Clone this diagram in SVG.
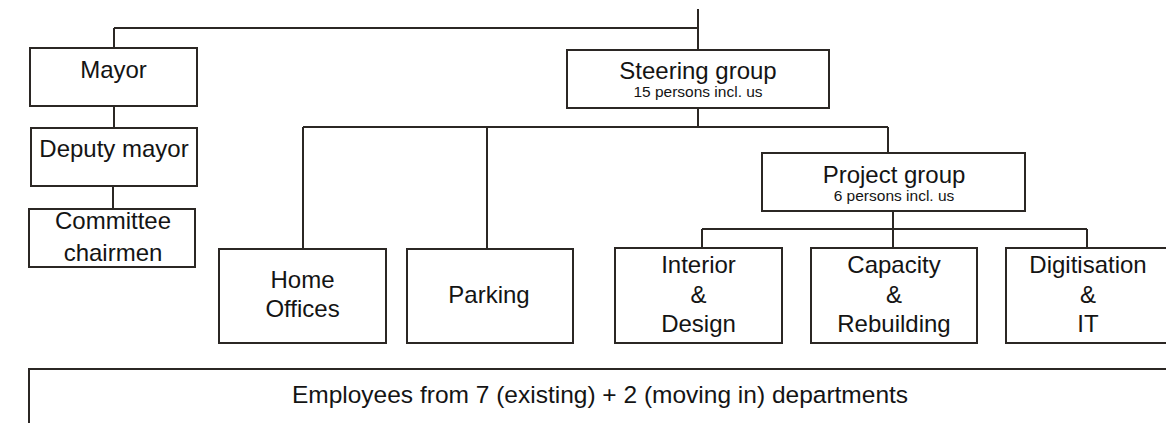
<svg xmlns="http://www.w3.org/2000/svg" width="1166" height="423" viewBox="0 0 1166 423">
  <style>
    .box { fill: #ffffff; stroke: #2b2724; stroke-width: 2; }
    .link { fill: none; stroke: #2b2724; stroke-width: 2; }
    text { font-family: "Liberation Sans", Arial, sans-serif; fill: #141414; text-anchor: middle; }
    .t { font-size: 24px; }
    .s { font-size: 15.5px; }
  </style>
  <rect width="1166" height="423" fill="#ffffff"/>

  <!-- connectors -->
  <g id="connectors">
    <path class="link" d="M698 9 V50"/>
    <path class="link" d="M114 28 H698"/>
    <path class="link" d="M114 28 V48"/>
    <path class="link" d="M114 106 V128"/>
    <path class="link" d="M113 186 V209"/>
    <path class="link" d="M698 108 V127"/>
    <path class="link" d="M303 127 H888"/>
    <path class="link" d="M303 127 V249"/>
    <path class="link" d="M487 127 V249"/>
    <path class="link" d="M888 127 V153"/>
    <path class="link" d="M893 211 V229"/>
    <path class="link" d="M702 229 H1087"/>
    <path class="link" d="M702 229 V248"/>
    <path class="link" d="M893 229 V248"/>
    <path class="link" d="M1087 229 V248"/>
  </g>

  <g id="mayor">
    <rect class="box" x="30" y="48" width="167" height="58"/>
    <text class="t" x="113.5" y="78">Mayor</text>
  </g>

  <g id="deputy-mayor">
    <rect class="box" x="31" y="128" width="166" height="58"/>
    <text class="t" x="114" y="157">Deputy mayor</text>
  </g>

  <g id="committee-chairmen">
    <rect class="box" x="29" y="209" width="166" height="58"/>
    <text class="t" x="113" y="229">Committee</text>
    <text class="t" x="113" y="261">chairmen</text>
  </g>

  <g id="steering-group">
    <rect class="box" x="567" y="50" width="262" height="58"/>
    <text class="t" x="698" y="79">Steering group</text>
    <text class="s" x="698" y="97">15 persons incl. us</text>
  </g>

  <g id="project-group">
    <rect class="box" x="762" y="153" width="263" height="58"/>
    <text class="t" x="894" y="183">Project group</text>
    <text class="s" x="894" y="201">6 persons incl. us</text>
  </g>

  <g id="home-offices">
    <rect class="box" x="219" y="249" width="167" height="94"/>
    <text class="t" x="302.5" y="288">Home</text>
    <text class="t" x="302.5" y="317">Offices</text>
  </g>

  <g id="parking">
    <rect class="box" x="407" y="249" width="166" height="94"/>
    <text class="t" x="489" y="303">Parking</text>
  </g>

  <g id="interior-design">
    <rect class="box" x="615" y="248" width="167" height="95"/>
    <text class="t" x="698.5" y="273">Interior</text>
    <text class="t" x="698.5" y="303">&amp;</text>
    <text class="t" x="698.5" y="332">Design</text>
  </g>

  <g id="capacity-rebuilding">
    <rect class="box" x="811" y="248" width="166" height="95"/>
    <text class="t" x="894" y="273">Capacity</text>
    <text class="t" x="894" y="303">&amp;</text>
    <text class="t" x="894" y="332">Rebuilding</text>
  </g>

  <g id="digitisation-it">
    <rect class="box" x="1006" y="248" width="170" height="95"/>
    <text class="t" x="1088" y="273">Digitisation</text>
    <text class="t" x="1088" y="303">&amp;</text>
    <text class="t" x="1088" y="332">IT</text>
  </g>

  <g id="employees">
    <rect class="box" x="29" y="369" width="1150" height="70"/>
    <text x="600" y="403" style="font-size:24.5px">Employees from 7 (existing) + 2 (moving in) departments</text>
  </g>
</svg>
